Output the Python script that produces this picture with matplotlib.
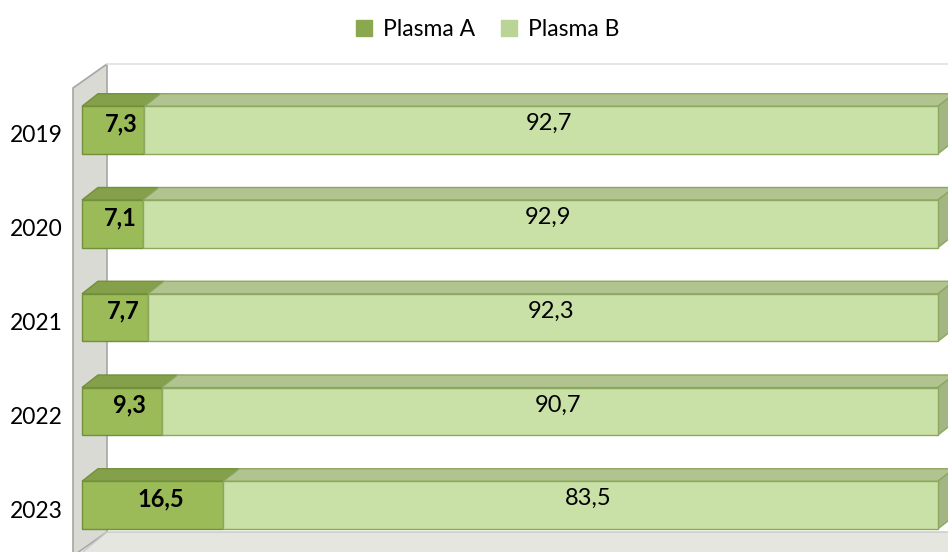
import matplotlib
matplotlib.use("Agg")
import matplotlib.pyplot as plt
from matplotlib.patches import Polygon
from matplotlib.lines import Line2D

years = ["2019", "2020", "2021", "2022", "2023"]
plasma_a = [7.3, 7.1, 7.7, 9.3, 16.5]
plasma_b = [92.7, 92.9, 92.3, 90.7, 83.5]
series_names = ["Plasma A", "Plasma B"]
labels_a = ["7,3", "7,1", "7,7", "9,3", "16,5"]
labels_b = ["92,7", "92,9", "92,3", "90,7", "83,5"]

W, H = 948, 552
plt.rcParams['font.family'] = ['Lato', 'DejaVu Sans']
fig = plt.figure(figsize=(W / 100, H / 100), dpi=100)
ax = fig.add_axes([0, 0, 1, 1])

# pixel -> data mapping helpers (layout only)
X0, XSCALE = 82.0, 8.56          # px of 0 %, px per 1 %
Y0, YSCALE = 130.0, 93.75        # px of first category centre, px per category
def dx(px): return px / XSCALE
def dy(px): return px / YSCALE
def P(px, py): return ((px - X0) / XSCALE, (py - Y0) / YSCALE)

ax.set_xlim(-X0 / XSCALE, (W - X0) / XSCALE)
ax.set_ylim((H - Y0) / YSCALE, -Y0 / YSCALE)
ax.axis('off')

# chart walls / floor
wall = Polygon([P(73, 88), P(107, 64), P(107, 532), P(73, 556)], closed=True,
               facecolor='#D9DAD4', edgecolor='#A6A6A6', lw=1.2, zorder=1)
ax.add_patch(wall)
floor = Polygon([P(107, 532), P(980, 532), P(960, 560), P(73, 560)], closed=True,
                facecolor='#E5E6E0', edgecolor='#C8C8C8', lw=1.0, zorder=1)
ax.add_patch(floor)
ax.plot(*zip(P(107, 64), P(960, 64)), color='#E0E0E0', lw=1.2, zorder=1)

A_FRONT, A_TOP, A_EDGE = '#9BBB59', '#84A04A', '#72903C'
B_FRONT, B_TOP, B_SIDE, B_EDGE = '#C9E0A7', '#B1C48F', '#A4B584', '#8CA860'

h = dy(47.5)
ddx, ddy = dx(16), dy(12.5)

for i in range(len(years)):
    a, b = plasma_a[i], plasma_b[i]
    top = i - h / 2
    bot = i + h / 2
    # top faces
    ax.add_patch(Polygon([(0, top), (ddx, top - ddy), (a + ddx, top - ddy), (a, top)],
                         closed=True, facecolor=A_TOP, edgecolor=A_EDGE, lw=1, zorder=2))
    ax.add_patch(Polygon([(a, top), (a + ddx, top - ddy), (a + b + ddx, top - ddy), (a + b, top)],
                         closed=True, facecolor=B_TOP, edgecolor=B_EDGE, lw=1, zorder=2))
    # right side face
    ax.add_patch(Polygon([(a + b, top), (a + b + ddx, top - ddy), (a + b + ddx, bot - ddy), (a + b, bot)],
                         closed=True, facecolor=B_SIDE, edgecolor=B_EDGE, lw=1, zorder=2))

ax.barh(range(len(years)), plasma_a, height=h, left=0, color=A_FRONT,
        edgecolor=A_EDGE, lw=1, zorder=3)
ax.barh(range(len(years)), plasma_b, height=h, left=plasma_a, color=B_FRONT,
        edgecolor=B_EDGE, lw=1, zorder=3)

for i in range(len(years)):
    a, b = plasma_a[i], plasma_b[i]
    ax.text(a / 2 + ddx / 2, i - ddy / 2, labels_a[i], ha='center', va='center',
            fontsize=17, fontweight='bold', color='black', zorder=5)
    ax.text(a + b / 2 + ddx / 2, i - ddy / 2, labels_b[i], ha='center', va='center',
            fontsize=17, color='black', zorder=5)
    ax.text(-dx(19), i + dy(6), years[i], ha='right', va='center',
            fontsize=16.5, color='black', zorder=5)

handles = [Line2D([], [], marker='s', linestyle='none', markersize=11,
                  markerfacecolor='#8AA84E', markeredgecolor='#8AA84E'),
           Line2D([], [], marker='s', linestyle='none', markersize=11,
                  markerfacecolor='#B9D495', markeredgecolor='#B9D495')]
fig.legend(handles, series_names, loc='center', ncol=2, frameon=False,
           bbox_to_anchor=(486 / W, 1 - 30 / H), fontsize=16.5,
           handletextpad=0.3, columnspacing=1.0, handlelength=1.0)

fig.savefig('out.png', dpi=100)
